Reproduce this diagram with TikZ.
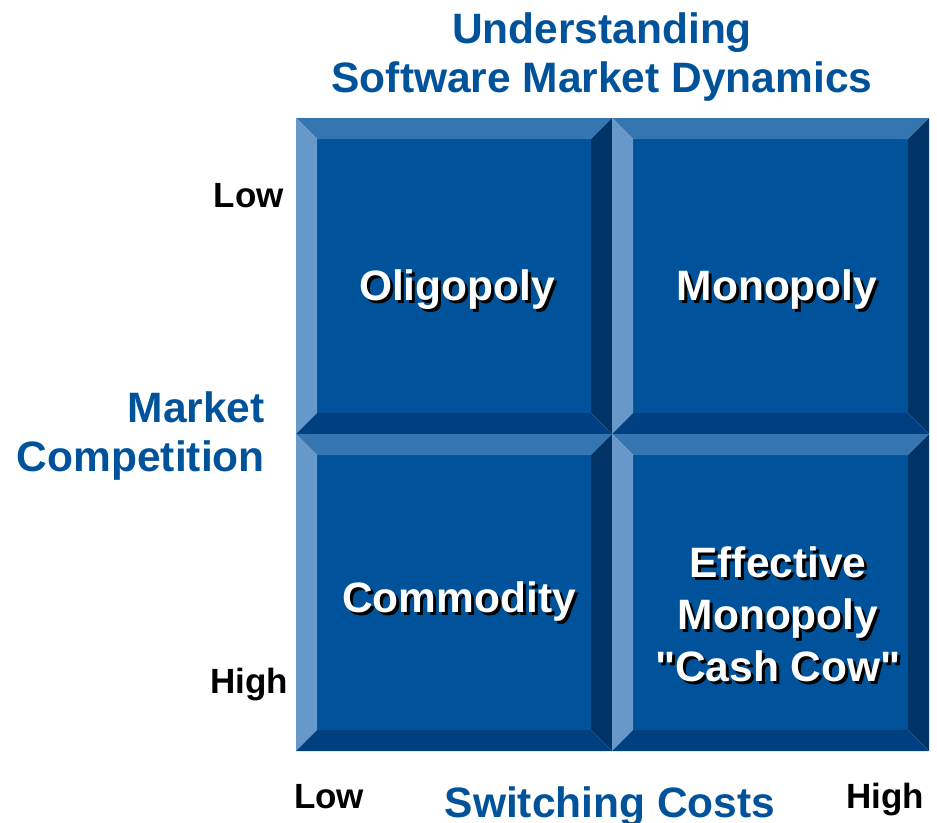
\documentclass[tikz,border=0pt]{standalone}
\usepackage{fontspec}
\setmainfont{Liberation Sans}[Ligatures=TeXOff]
\definecolor{face}{RGB}{0,82,155}
\definecolor{bevtop}{RGB}{53,117,176}
\definecolor{bevleft}{RGB}{102,153,201}
\definecolor{bevright}{RGB}{0,51,102}
\definecolor{bevbot}{RGB}{0,64,128}
\definecolor{titleblue}{RGB}{0,82,155}
\tikzset{
  big/.style={font=\fontsize{42.5}{50}\selectfont\bfseries, inner sep=0pt, anchor=base},
  small/.style={font=\fontsize{35}{42}\selectfont\bfseries, inner sep=0pt, anchor=base},
  bluetext/.style={big, text=titleblue},
  celltext/.style={big, text=white},
  cellshadow/.style={big, text=black},
}
% bevelled tile: #1,#2 upper-left corner, #3,#4 lower-right corner
\newcommand\beveltile[4]{%
  \def\bw{21}%
  \fill[face] (#1+\bw,#2+\bw) rectangle (#3-\bw,#4-\bw);
  \fill[bevtop] (#1,#2) -- (#3,#2) -- (#3-\bw,#2+\bw) -- (#1+\bw,#2+\bw) -- cycle;
  \fill[bevleft] (#1,#2) -- (#1+\bw,#2+\bw) -- (#1+\bw,#4-\bw) -- (#1,#4) -- cycle;
  \fill[bevright] (#3,#2) -- (#3,#4) -- (#3-\bw,#4-\bw) -- (#3-\bw,#2+\bw) -- cycle;
  \fill[bevbot] (#1,#4) -- (#3,#4) -- (#3-\bw,#4-\bw) -- (#1+\bw,#4-\bw) -- cycle;
}
% white label with a dropped black shadow
\newcommand\shlabel[4]{%
  \node[cellshadow] (#1-sh) at (#2+3,#3+3) {#4};
  \node[celltext] (#1) at (#2,#3) {#4};
}
\begin{document}
\begin{tikzpicture}[x=1pt,y=-1pt]
\useasboundingbox (0,0) rectangle (937,822);

% the four tiles
\beveltile{296}{118}{612}{434}
\beveltile{612}{118}{929}{434}
\beveltile{296}{434}{612}{751}
\beveltile{612}{434}{929}{751}

% title
\node[bluetext] (title1) at (602,43) {Understanding};
\node[bluetext] (title2) at (602,92) {Software Market Dynamics};

% vertical axis
\node[bluetext, anchor=base east] (ylab1) at (265,422) {Market};
\node[bluetext, anchor=base east] (ylab2) at (265,471) {Competition};
\node[small, anchor=base east] (ylow) at (284,207) {Low};
\node[small, anchor=base east] (yhigh) at (288,693) {High};

% horizontal axis
\node[small] (xlow) at (329,808) {Low};
\node[small] (xhigh) at (885,808) {High};
\node[bluetext] (xlab) at (610,817) {Switching Costs};

% quadrant labels
\shlabel{oligo}{457}{300}{Oligopoly}
\shlabel{mono}{777}{300}{Monopoly}
\shlabel{commod}{459}{612}{Commodity}
\shlabel{eff1}{778}{577}{Effective}
\shlabel{eff2}{778}{629}{Monopoly}
\shlabel{eff3}{778}{681}{"Cash Cow"}
\end{tikzpicture}
\end{document}
